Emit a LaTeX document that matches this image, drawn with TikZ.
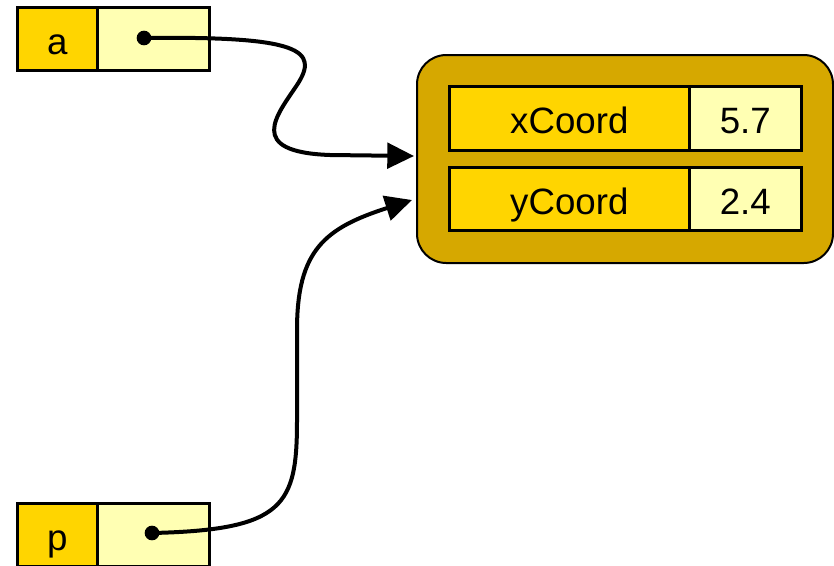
\documentclass[tikz,border=0pt]{standalone}
\usepackage{fontspec}
\setmainfont{Liberation Sans}
\usetikzlibrary{arrows.meta}
\definecolor{gold}{HTML}{FFD500}
\definecolor{pale}{HTML}{FFFFB3}
\definecolor{dark}{HTML}{D6A800}
\begin{document}
\begin{tikzpicture}[x=0.75pt,y=-0.75pt,
  cell/.style={draw=black,line width=2pt,inner sep=0pt,anchor=north west,
    text height=23pt,text depth=0pt,
    font=\fontsize{27.5}{33}\selectfont},
  lab/.style={cell,fill=gold},
  val/.style={cell,fill=pale},
  dotnode/.style={circle,fill=black,inner sep=0pt,minimum size=11pt},
  link/.style={line width=3pt,-{Triangle[length=20pt,width=19pt]}}]
\useasboundingbox (0,0) rectangle (834,565);
% variable a
\node[lab,minimum width=60pt,minimum height=47.25pt] (aLabel) at (16,6) {a};
\node[val,minimum width=84pt,minimum height=47.25pt] (aVal) at (96,6) {};
% variable p
\node[lab,minimum width=60pt,minimum height=47.25pt] (pLabel) at (16,502) {p};
\node[val,minimum width=84pt,minimum height=47.25pt] (pVal) at (96,502) {};
% object
\node[draw=black,line width=1.5pt,fill=dark,rounded corners=22pt,anchor=north west,
  minimum width=312pt,minimum height=156pt,inner sep=0pt] (obj) at (416,54) {};
\node[lab,minimum width=180pt,minimum height=48pt] (xl) at (448,85) {xCoord};
\node[val,minimum width=84pt,minimum height=48pt] (xv) at (688,85) {5.7};
\node[lab,minimum width=180pt,minimum height=47.25pt] (yl) at (448,166) {yCoord};
\node[val,minimum width=84pt,minimum height=47.25pt] (yv) at (688,166) {2.4};
% pointers
\node[dotnode] (da) at (144,38) {};
\node[dotnode] (dp) at (152,533) {};
\coordinate (ta) at (414,156);
\coordinate (tp) at (412,200);
\draw[link] (da.center) .. controls (300,36) and (320,50) .. (297,85)
  .. controls (277,115) and (245,152) .. (330,155) -- (ta);
\draw[link] (dp.center) .. controls (285,530) and (297,505) .. (297,420)
  -- (297,330) .. controls (297,250) and (325,228) .. (tp);
\end{tikzpicture}
\end{document}
